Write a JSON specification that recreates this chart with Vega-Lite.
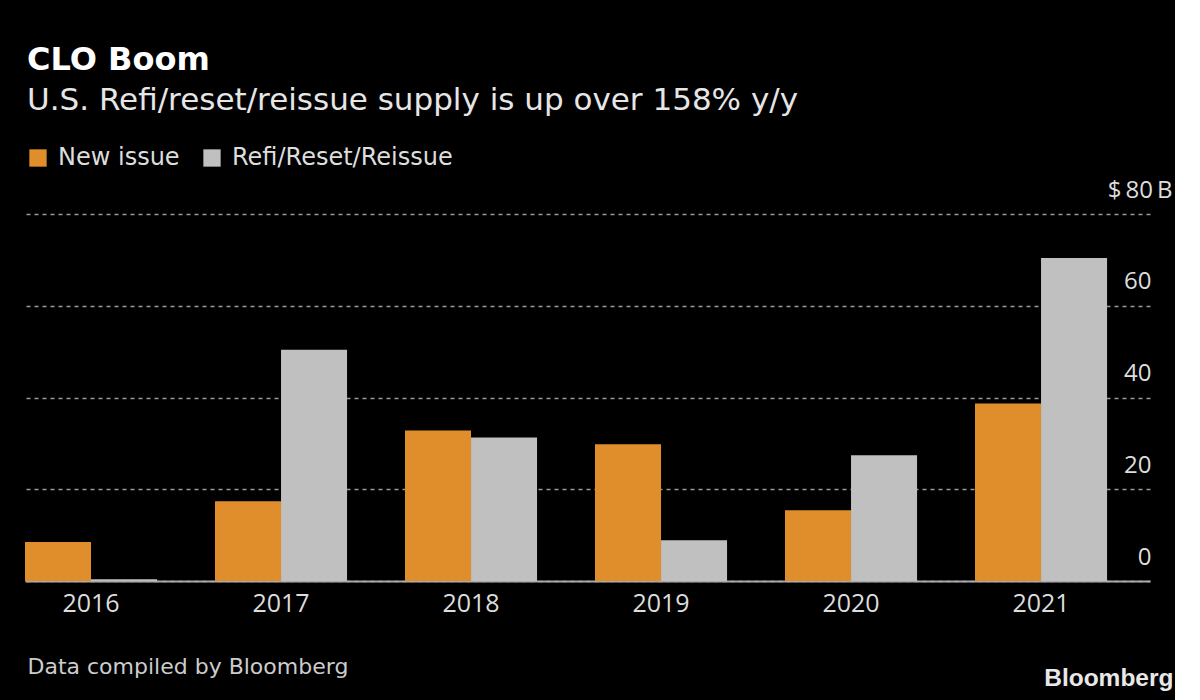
{
  "$schema": "https://vega.github.io/schema/vega-lite/v6.json",
  "width": 1125,
  "height": 367,
  "autosize": {"type": "none"},
  "padding": {"left": 25, "top": 214, "right": 25, "bottom": 119},
  "background": "#000000",
  "title": {
    "text": "CLO Boom",
    "subtitle": "U.S. Refi/reset/reissue supply is up over 158% y/y",
    "anchor": "start",
    "frame": "group",
    "font": "DejaVu Sans",
    "fontSize": 32,
    "fontWeight": "bold",
    "color": "#ffffff",
    "subtitleFont": "DejaVu Sans",
    "subtitleFontSize": 31,
    "subtitleColor": "#e6e6e6",
    "subtitlePadding": 9,
    "offset": 29,
    "dx": 2
  },
  "data": {
    "values": [
      {"year": "2016", "type": "New issue", "value": 8.5},
      {"year": "2016", "type": "Refi/Reset/Reissue", "value": 0.4},
      {"year": "2017", "type": "New issue", "value": 17.4},
      {"year": "2017", "type": "Refi/Reset/Reissue", "value": 50.4},
      {"year": "2018", "type": "New issue", "value": 32.8},
      {"year": "2018", "type": "Refi/Reset/Reissue", "value": 31.3},
      {"year": "2019", "type": "New issue", "value": 29.8},
      {"year": "2019", "type": "Refi/Reset/Reissue", "value": 8.9},
      {"year": "2020", "type": "New issue", "value": 15.4},
      {"year": "2020", "type": "Refi/Reset/Reissue", "value": 27.4},
      {"year": "2021", "type": "New issue", "value": 38.7},
      {"year": "2021", "type": "Refi/Reset/Reissue", "value": 70.4}
    ]
  },
  "mark": {"type": "bar"},
  "encoding": {
    "x": {
      "field": "year",
      "type": "nominal",
      "scale": {"paddingInner": 0.305, "paddingOuter": 0.113, "align": 0},
      "axis": {
        "orient": "bottom",
        "domain": true,
        "domainColor": "#aaaaaa",
        "domainWidth": 2,
        "ticks": false,
        "labelAngle": 0,
        "labelFont": "Open Sans",
        "labelFontSize": 25,
        "labelColor": "#dddddd",
        "labelPadding": 10,
        "title": "Data compiled by Bloomberg",
        "titleFont": "DejaVu Sans",
        "titleFontSize": 22,
        "titleFontWeight": "normal",
        "titleColor": "#cccccc",
        "titleAlign": "left",
        "titleAnchor": "start",
        "titleBaseline": "alphabetic",
        "titleX": 2,
        "titleY": 92
      }
    },
    "xOffset": {
      "field": "type",
      "type": "nominal",
      "scale": {"paddingInner": 0, "paddingOuter": 0}
    },
    "y": {
      "field": "value",
      "type": "quantitative",
      "scale": {"domain": [0, 80], "nice": false},
      "axis": {
        "orient": "right",
        "values": [0, 20, 40, 60, 80],
        "grid": true,
        "gridDash": [4, 4],
        "gridColor": "#999999",
        "gridWidth": 1.5,
        "domain": false,
        "ticks": false,
        "tickSize": 0,
        "labelExpr": "datum.value == 80 ? '$\u200980\u2009B' : datum.label",
        "labelAlign": "right",
        "labelBaseline": "alphabetic",
        "labelOffset": -17,
        "labelPadding": {"condition": {"test": "datum.value == 80", "value": 22}, "value": 1},
        "labelFont": "Open Sans",
        "labelFontSize": 24,
        "labelColor": "#dddddd",
        "title": "Bloomberg",
        "titleAngle": 0,
        "titleFont": "Liberation Sans",
        "titleFontWeight": "bold",
        "titleFontSize": 24.5,
        "titleColor": "#e8e8e8",
        "titleAlign": "right",
        "titleBaseline": "alphabetic",
        "titleX": 23,
        "titleY": 471
      }
    },
    "color": {
      "field": "type",
      "type": "nominal",
      "scale": {"domain": ["New issue", "Refi/Reset/Reissue"], "range": ["#E08E2B", "#C0C0C0"]},
      "legend": {
        "orient": "none",
        "legendX": 1,
        "legendY": -68,
        "direction": "horizontal",
        "title": null,
        "padding": 0,
        "symbolType": "square",
        "symbolSize": 300,
        "symbolStrokeWidth": 0,
        "symbolOpacity": 1,
        "labelFont": "DejaVu Sans",
        "labelFontSize": 24,
        "labelColor": "#dddddd",
        "labelOffset": 8,
        "labelLimit": 500,
        "columnPadding": 20
      }
    }
  },
  "config": {
    "view": {"stroke": null}
  }
}
